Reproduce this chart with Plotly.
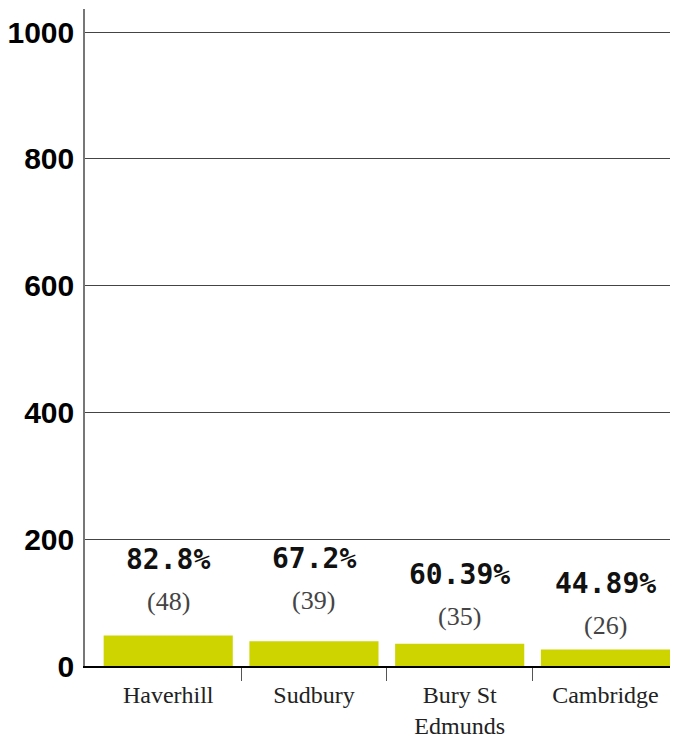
import plotly.graph_objects as go

categories = ["Haverhill", "Sudbury", "Bury St<br>Edmunds", "Cambridge"]
counts = [48, 39, 35, 26]
percent_labels = ["82.8%", "67.2%", "60.39%", "44.89%"]
y_ticks = [0, 200, 400, 600, 800, 1000]

# pixel lift of label centres above bar tops (layout only)
pct_lift = [76, 83, 69, 66]
cnt_lift = [34, 41, 27, 24]

xpos = list(range(len(categories)))

fig = go.Figure(go.Bar(
    x=xpos, y=counts,
    marker=dict(color="#cdd400", line=dict(width=0)),
    hoverinfo="skip",
))

ann = []
for x, v, p, pl, cl in zip(xpos, counts, percent_labels, pct_lift, cnt_lift):
    ann.append(dict(x=x, y=v, text="<b>" + p + "</b>", showarrow=False, yanchor="middle", yshift=pl,
                    font=dict(family="DejaVu Sans Mono", size=28, color="#111")))
    ann.append(dict(x=x, y=v, text="(%d)" % v, showarrow=False, yanchor="middle", yshift=cl,
                    font=dict(family="Liberation Serif", size=26, color="#444")))

fig.update_layout(
    width=683, height=740,
    margin=dict(l=77, r=21, t=1, b=82),
    plot_bgcolor="white", paper_bgcolor="white",
    bargap=0.114,
    showlegend=False,
    annotations=ann,
    xaxis=dict(
        range=[-0.571, 3.443],
        tickvals=xpos, ticktext=categories,
        ticks="",
        minor=dict(tickvals=[i + 0.5 for i in xpos[:-1]], ticks="outside",
                   ticklen=13, tickcolor="#555", tickwidth=1, showgrid=False),
        showline=True, linecolor="#000", linewidth=2,
        showgrid=False, zeroline=False,
        automargin=False,
        ticklabelstandoff=6,
        tickfont=dict(family="Liberation Serif", size=24, color="#222"),
    ),
    yaxis=dict(
        range=[0, 1036.3],
        tickvals=y_ticks,
        ticktext=["<b>%d</b>" % t for t in y_ticks],
        showgrid=True, gridcolor="#444", gridwidth=1,
        showline=True, linecolor="#777", linewidth=1.5,
        zeroline=False,
        ticks="", ticklabelstandoff=3,
        automargin=False,
        tickfont=dict(family="Liberation Sans", size=30, color="#000"),
    ),
)

fig.write_html("out.html")
